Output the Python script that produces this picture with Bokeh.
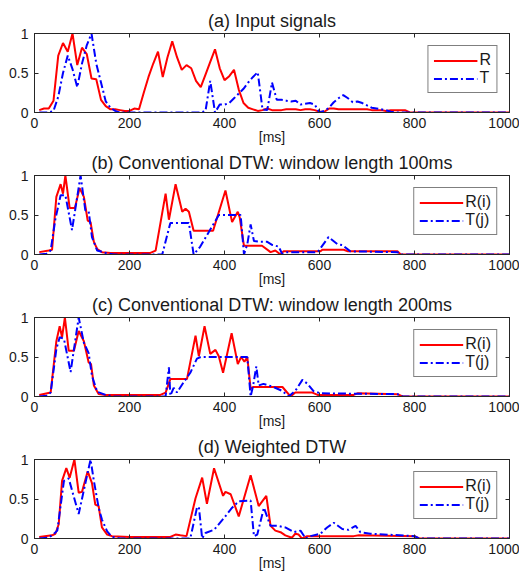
from bokeh.plotting import figure
from bokeh.layouts import column
from bokeh.models import LinearAxis, FixedTicker
from bokeh.embed import file_html
from bokeh.resources import INLINE

# ---------------- data ----------------
# (a) input signals, sampled every 10 ms
a_x = list(range(10, 1001, 10))
a_R = [0.03, 0.05, 0.05, 0.15, 0.72, 0.88, 0.77, 1.0, 0.6, 0.82,
       0.74, 0.43, 0.42, 0.16, 0.08, 0.04, 0.04, 0.03, 0.02, 0.02,
       0.05, 0.04, 0.25, 0.45, 0.62, 0.77, 0.45, 0.7, 0.9, 0.7,
       0.54, 0.6, 0.56, 0.4, 0.32, 0.48, 0.64, 0.8, 0.56, 0.41,
       0.46, 0.54, 0.29, 0.12, 0.06, 0.04, 0.02, 0.03, 0.05, 0.03,
       0.03, 0.03, 0.04, 0.04, 0.04, 0.03, 0.04, 0.04, 0.03, 0.01,
       0.01, 0.05, 0.05, 0.04, 0.04, 0.04, 0.04, 0.04, 0.04, 0.04,
       0.03, 0.03, 0.03, 0.02, 0.03, 0.03, 0.03, 0.03, 0.0, 0.0,
       0.0, 0.0, 0.0, 0.0, 0.0, 0.0, 0.0, 0.0, 0.0, 0.0,
       0.0, 0.0, 0.0, 0.0, 0.0, 0.0, 0.0, 0.0, 0.0, 0.0]
a_T = [0.0, 0.0, 0.0, 0.02, 0.2, 0.5, 0.72, 0.55, 0.32, 0.62,
       0.85, 1.0, 0.62, 0.38, 0.14, 0.06, 0.02, 0.0, 0.0, 0.0,
       0.0, 0.0, 0.0, 0.0, 0.0, 0.0, 0.0, 0.0, 0.0, 0.0,
       0.0, 0.0, 0.0, 0.0, 0.0, 0.02, 0.4, 0.0, 0.1, 0.1,
       0.12, 0.18, 0.24, 0.3, 0.38, 0.45, 0.51, 0.04, 0.03, 0.38,
       0.16, 0.16, 0.15, 0.14, 0.15, 0.1, 0.11, 0.12, 0.1, 0.0,
       0.02, 0.06, 0.13, 0.18, 0.22, 0.18, 0.13, 0.14, 0.12, 0.09,
       0.06, 0.05, 0.04, 0.03, 0.01, 0.0, 0.0, 0.0, 0.0, 0.0,
       0.0, 0.0, 0.0, 0.0, 0.0, 0.0, 0.0, 0.0, 0.0, 0.0,
       0.0, 0.0, 0.0, 0.0, 0.0, 0.0, 0.0, 0.0, 0.0, 0.0]

# (b) conventional DTW, window 100 ms
b_R_x = [10, 30, 37, 46, 55, 60, 65, 74, 85, 95, 104, 112, 118, 125, 132, 142, 160, 244, 255,
         276, 283, 297, 311, 318, 325, 335, 376, 402, 416, 428, 432, 441, 479, 497, 507, 518,
         524, 602, 606, 651, 660, 764, 771, 1000]
b_R = [0.03, 0.05, 0.06, 0.73, 0.89, 0.77, 1.0, 0.59, 0.59, 0.84, 0.73, 0.43, 0.41, 0.16, 0.07,
       0.03, 0.02, 0.02, 0.05, 0.77, 0.44, 0.89, 0.54, 0.58, 0.54, 0.3, 0.3, 0.81, 0.41, 0.54,
       0.47, 0.11, 0.11, 0.03, 0.05, 0.0, 0.04, 0.04, 0.06, 0.06, 0.04, 0.04, 0.0, 0.0]
b_T_x = [10, 25, 34, 44, 55, 65, 79, 97, 107, 114, 121, 132, 150, 167, 269, 286, 325, 335, 349,
         388, 434, 441, 448, 455, 462, 476, 490, 501, 514, 522, 532, 596, 619, 638, 648, 665,
         764, 771, 1000]
b_T = [0.0, 0.01, 0.05, 0.45, 0.75, 0.75, 0.31, 1.0, 0.56, 0.55, 0.22, 0.05, 0.02, 0.0, 0.0,
       0.4, 0.4, 0.0, 0.1, 0.5, 0.5, 0.0, 0.13, 0.38, 0.17, 0.16, 0.16, 0.12, 0.1, 0.0, 0.03,
       0.03, 0.22, 0.13, 0.12, 0.04, 0.03, 0.0, 0.0]

# (c) conventional DTW, window 200 ms
c_R_x = [10, 34, 46, 53, 58, 64, 72, 83, 93, 104, 114, 119, 125, 135, 150, 265, 276, 286, 321,
         339, 346, 358, 370, 381, 388, 397, 415, 428, 435, 442, 448, 455, 460, 522, 539, 549,
         585, 596, 672, 680, 764, 775, 1000]
c_R = [0.02, 0.05, 0.7, 0.89, 0.75, 1.0, 0.58, 0.58, 0.83, 0.7, 0.43, 0.41, 0.14, 0.03, 0.02,
       0.02, 0.05, 0.22, 0.22, 0.77, 0.51, 0.89, 0.54, 0.59, 0.51, 0.3, 0.8, 0.41, 0.5, 0.44,
       0.5, 0.1, 0.12, 0.12, 0.0, 0.05, 0.05, 0.02, 0.02, 0.04, 0.03, 0.0, 0.0]
c_T_x = [10, 25, 34, 46, 53, 62, 76, 93, 104, 114, 121, 132, 150, 167, 276, 283, 286, 293, 300,
         314, 328, 342, 350, 448, 455, 460, 467, 472, 482, 503, 522, 535, 549, 564, 575, 587,
         602, 764, 775, 1000]
c_T = [0.0, 0.01, 0.05, 0.6, 0.75, 0.73, 0.31, 1.0, 0.68, 0.55, 0.26, 0.06, 0.02, 0.0, 0.0,
       0.37, 0.01, 0.11, 0.05, 0.18, 0.3, 0.48, 0.5, 0.5, 0.0, 0.13, 0.38, 0.14, 0.16, 0.12,
       0.07, 0.0, 0.07, 0.21, 0.16, 0.07, 0.04, 0.03, 0.0, 0.0]

# (d) weighted DTW
d_R_x = [10, 37, 44, 51, 58, 67, 74, 84, 93, 100, 112, 121, 128, 135, 142, 153, 163, 200, 286,
         297, 307, 320, 339, 353, 363, 378, 397, 402, 413, 430, 455, 472, 488, 497, 507, 518,
         528, 542, 549, 556, 563, 574, 672, 683, 800, 810, 1000]
d_R = [0.02, 0.04, 0.06, 0.18, 0.73, 0.89, 0.77, 1.0, 0.58, 0.59, 0.85, 0.7, 0.43, 0.41, 0.14,
       0.05, 0.03, 0.02, 0.02, 0.05, 0.04, 0.03, 0.51, 0.77, 0.44, 0.89, 0.54, 0.59, 0.56, 0.28,
       0.8, 0.41, 0.54, 0.16, 0.1, 0.08, 0.04, 0.01, 0.06, 0.05, 0.0, 0.03, 0.03, 0.04, 0.03,
       0.0, 0.0]
d_T_x = [10, 30, 41, 48, 62, 72, 93, 118, 125, 135, 142, 153, 163, 180, 328, 342, 346, 353, 360,
         378, 399, 416, 430, 455, 462, 469, 483, 493, 497, 511, 528, 546, 560, 571, 581, 602,
         616, 630, 648, 661, 676, 686, 707, 800, 810, 1000]
d_T = [0.0, 0.01, 0.06, 0.1, 0.73, 0.76, 0.31, 1.0, 0.73, 0.39, 0.24, 0.09, 0.02, 0.0, 0.0,
       0.39, 0.4, 0.0, 0.07, 0.11, 0.26, 0.39, 0.47, 0.48, 0.03, 0.05, 0.39, 0.22, 0.16, 0.16,
       0.14, 0.08, 0.1, 0.0, 0.03, 0.06, 0.14, 0.2, 0.12, 0.11, 0.16, 0.08, 0.06, 0.03, 0.0,
       0.0]

titles = ["(a) Input signals",
          "(b) Conventional DTW: window length 100ms",
          "(c) Conventional DTW: window length 200ms",
          "(d) Weighted DTW"]
x_ticks = [0, 200, 400, 600, 800, 1000]
y_ticks = [0, 0.5, 1]
y_tick_labels = {0: "0", 0.5: "0.5", 1: "1"}
x_label = "[ms]"

panels = [
    (a_x, a_R, a_x, a_T, "R", "T"),
    (b_R_x, b_R, b_T_x, b_T, "R(i)", "T(j)"),
    (c_R_x, c_R, c_T_x, c_T, "R(i)", "T(j)"),
    (d_R_x, d_R, d_T_x, d_T, "R(i)", "T(j)"),
]

FONT = "Liberation Sans"
AX = "#262626"
TXT = "#1a1a1a"


def style_axis(ax, ticks, show_labels):
    ax.ticker = FixedTicker(ticks=ticks)
    ax.axis_line_color = AX
    ax.major_tick_line_color = AX
    ax.major_tick_in = 4
    ax.major_tick_out = 0
    ax.minor_tick_line_color = None
    ax.major_label_text_font = FONT
    ax.major_label_text_font_size = "14px"
    ax.major_label_text_color = TXT
    if not show_labels:
        ax.major_label_text_color = None
        ax.major_label_text_font_size = "1px"
        ax.major_label_standoff = 0


figs = []
for i, (rx, ry, tx, ty, rl, tl) in enumerate(panels):
    top_border = 33 if i == 0 else 0
    p = figure(frame_width=475, frame_height=79, x_range=(0, 1000), y_range=(0, 1),
               output_backend="svg", toolbar_location=None,
               min_border_left=34, min_border_right=10, min_border_top=top_border,
               min_border_bottom=0, title=titles[i])
    p.title.text_font = FONT
    p.title.text_font_size = "18px"
    p.title.text_font_style = "normal"
    p.title.text_color = TXT
    p.title.align = "center"
    p.title.standoff = 6
    p.grid.visible = False
    p.outline_line_color = AX

    p.line(rx, ry, line_color="#ff0000", line_width=2, legend_label=rl)
    p.line(tx, ty, line_color="#0000ff", line_width=2, line_dash="8 3 2 3",
           legend_label=tl)

    style_axis(p.xaxis[0], x_ticks, True)
    style_axis(p.yaxis[0], y_ticks, True)
    p.yaxis[0].major_label_overrides = y_tick_labels
    p.xaxis[0].major_label_standoff = 5
    p.yaxis[0].major_label_standoff = 6
    p.xaxis[0].axis_label = x_label
    p.xaxis[0].axis_label_text_font = FONT
    p.xaxis[0].axis_label_text_font_size = "14px"
    p.xaxis[0].axis_label_text_font_style = "normal"
    p.xaxis[0].axis_label_text_color = TXT
    p.xaxis[0].axis_label_standoff = -2

    top = LinearAxis()
    style_axis(top, x_ticks, False)
    p.add_layout(top, "above")
    right = LinearAxis()
    style_axis(right, y_ticks, False)
    p.add_layout(right, "right")

    lg = p.legend[0]
    lg.location = "top_right"
    lg.margin = 12
    lg.border_line_color = "black"
    lg.border_line_width = 1
    lg.label_text_font = FONT
    lg.label_text_font_size = "16px"
    lg.label_text_color = TXT
    lg.glyph_width = 44
    lg.glyph_height = 17
    lg.label_height = 17
    lg.label_width = 0
    lg.padding = 5
    lg.spacing = 0
    lg.label_standoff = 2
    lg.background_fill_alpha = 1.0
    figs.append(p)

layout = column(*figs, spacing=0)
open("out.html", "w").write(file_html(layout, INLINE))
